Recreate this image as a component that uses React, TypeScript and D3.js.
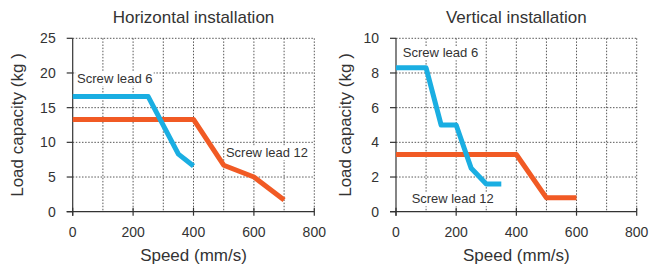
import React from 'react';
import * as d3 from 'd3';

// horizontal installation
const hSpeed6 = [0, 250, 350, 400];
const hLoad6 = [16.6, 16.6, 8.3, 6.6];
const hSpeed12 = [0, 400, 500, 600, 700];
const hLoad12 = [13.3, 13.3, 6.7, 5, 1.7];

// vertical installation
const vSpeed6 = [0, 100, 150, 200, 250, 300, 350];
const vLoad6 = [8.3, 8.3, 5, 5, 2.5, 1.6, 1.6];
const vSpeed12 = [0, 400, 500, 600];
const vLoad12 = [3.3, 3.3, 0.8, 0.8];

const xTicks = [0, 200, 400, 600, 800];
const xGrid = [100, 200, 300, 400, 500, 600, 700, 800];
const hTicks = [0, 5, 10, 15, 20, 25];
const vTicks = [0, 2, 4, 6, 8, 10];

const BLUE = '#1aaee2';
const ORANGE = '#f15a24';
const INK = '#333';
const FONT = '"Liberation Sans", Arial, Helvetica, sans-serif';

type Label = { text: string; x: number; y: number };

function Panel(props: {
  left: number;
  right: number;
  yMax: number;
  yTicks: number[];
  title: string;
  ylabelX: number;
  s6: number[]; l6: number[];
  s12: number[]; l12: number[];
  lab6: Label; lab12: Label;
}) {
  const { left, right, yMax, yTicks, title, ylabelX, s6, l6, s12, l12, lab6, lab12 } = props;
  const top = 38.3;
  const bottom = 211.7;
  const x = d3.scaleLinear().domain([0, 800]).range([left, right]);
  const y = d3.scaleLinear().domain([0, yMax]).range([bottom, top]);
  const line = d3.line<[number, number]>().x(d => x(d[0])).y(d => y(d[1]));
  const pts = (s: number[], l: number[]) => s.map((v, i) => [v, l[i]] as [number, number]);
  const mid = (left + right) / 2;

  const annot = (a: Label) => {
    const w = a.text.length * 6.3;
    return (
      <g>
        <rect x={a.x - 1} y={a.y - 11} width={w + 2} height={14} fill="white" />
        <text x={a.x} y={a.y} fontSize={13} fill={INK} textLength={w} lengthAdjust="spacingAndGlyphs">{a.text}</text>
      </g>
    );
  };

  return (
    <g fontFamily={FONT}>
      <text x={mid} y={22.7} textAnchor="middle" fontSize={17} fill={INK}>{title}</text>

      {/* dotted grid */}
      <g stroke="#444" strokeWidth={0.9} strokeDasharray="1.5 1.6" fill="none">
        {xGrid.map(v => <line key={'gx' + v} x1={x(v)} x2={x(v)} y1={top} y2={bottom} />)}
        {yTicks.filter(v => v > 0).map(v => <line key={'gy' + v} x1={left} x2={right} y1={y(v)} y2={y(v)} />)}
      </g>

      {annot(lab6)}
      {annot(lab12)}

      {/* axes */}
      <g stroke={INK} strokeWidth={1.2}>
        <line x1={left} x2={left} y1={top} y2={bottom + 4} />
        <line x1={left - 6} x2={right} y1={bottom} y2={bottom} />
        {yTicks.map(v => <line key={'ty' + v} x1={left - 6} x2={left} y1={y(v)} y2={y(v)} />)}
        {xTicks.map(v => <line key={'tx' + v} x1={x(v)} x2={x(v)} y1={bottom - 4} y2={bottom + 4} />)}
      </g>

      <g fontSize={14} fill={INK}>
        {yTicks.map(v => (
          <text key={'ly' + v} x={left - 17} y={y(v)} dy="0.36em" textAnchor="end">{v}</text>
        ))}
        {xTicks.map(v => (
          <text key={'lx' + v} x={x(v)} y={237.3} textAnchor="middle">{v}</text>
        ))}
      </g>

      <text x={mid} y={261} textAnchor="middle" fontSize={17} fill={INK}>Speed (mm/s)</text>
      <text transform={`translate(${ylabelX},${(top + bottom) / 2}) rotate(-90)`} textAnchor="middle" dy="0.35em" fontSize={17} fill={INK}>
        Load capacity (kg )
      </text>

      <path d={line(pts(s12, l12)) || ''} fill="none" stroke={ORANGE} strokeWidth={5} strokeLinejoin="round" />
      <path d={line(pts(s6, l6)) || ''} fill="none" stroke={BLUE} strokeWidth={5} strokeLinejoin="round" />
    </g>
  );
}

export default function App() {
  return (
    <svg width={649} height={268} style={{ position: 'absolute', left: 0, top: 0, background: 'white' }}>
      <rect width={649} height={268} fill="white" />
      <Panel
        left={72.7} right={314.3} yMax={25} yTicks={hTicks} title="Horizontal installation" ylabelX={17}
        s6={hSpeed6} l6={hLoad6} s12={hSpeed12} l12={hLoad12}
        lab6={{ text: 'Screw lead 6', x: 77, y: 83 }}
        lab12={{ text: 'Screw lead 12', x: 226, y: 157 }}
      />
      <Panel
        left={396} right={636.7} yMax={10} yTicks={vTicks} title="Vertical installation" ylabelX={345}
        s6={vSpeed6} l6={vLoad6} s12={vSpeed12} l12={vLoad12}
        lab6={{ text: 'Screw lead 6', x: 402.7, y: 57.3 }}
        lab12={{ text: 'Screw lead 12', x: 411.7, y: 203.3 }}
      />
    </svg>
  );
}
